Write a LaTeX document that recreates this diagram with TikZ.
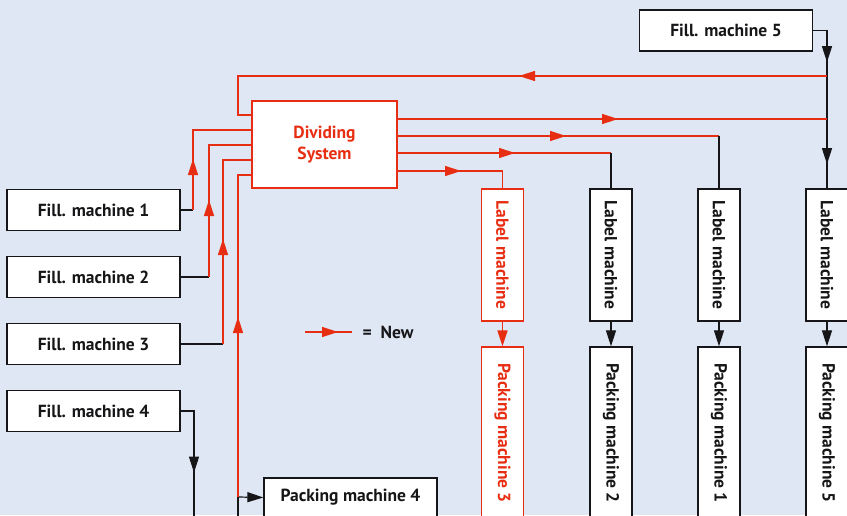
\documentclass[tikz,border=0pt]{standalone}
\usepackage{fontspec}
\usepackage{graphicx}
\setmainfont{PT Sans}
\usetikzlibrary{arrows.meta,decorations.markings}
\definecolor{bg}{RGB}{224,231,244}
\definecolor{newred}{RGB}{232,46,18}
\definecolor{ink}{RGB}{22,22,24}

\tikzset{
  flowtip/.tip={Triangle[length=16pt,width=10pt]},
  lbl/.style={font=\bfseries\fontsize{17.5}{21}\selectfont},
  box/.style={draw=ink, line width=1.3pt, fill=white, text=ink, lbl, inner sep=0pt,
              minimum width=173pt, minimum height=41pt},
  vbox/.style={draw=ink, line width=1.3pt, fill=white, text=ink, lbl, inner sep=0pt,
               minimum width=42pt},
  newbox/.style={draw=newred, text=newred},
  oldline/.style={draw=ink, line width=1.2pt},
  newline/.style={draw=newred, line width=1.5pt},
  arrowat/.style={postaction={decorate}, decoration={markings,
      mark=at position #1 with {\arrow{flowtip}}}},
  arrowsat/.style 2 args={postaction={decorate}, decoration={markings,
      mark=at position #1 with {\arrow{flowtip}},
      mark=at position #2 with {\arrow{flowtip}}}},
}

\begin{document}
\begin{tikzpicture}[x=1pt,y=-1pt]
\fill[bg] (0,0) rectangle (847,515);
\useasboundingbox (0,0) rectangle (847,515);
\clip (0,0) rectangle (847,515);

% filling machines
\node[box] (f1) at (93.5,210) {Fill. machine 1};
\node[box] (f2) at (93.5,277) {Fill. machine 2};
\node[box] (f3) at (93.5,344) {Fill. machine 3};
\node[box] (f4) at (93.5,411) {Fill. machine 4};
\node[box] (f5) at (726,30.5) {Fill. machine 5};

% dividing system
\node[box, newbox, minimum width=145pt, minimum height=87pt, align=center]
  (div) at (324.5,144.5) {Dividing\\System};

% label machines
\node[vbox, newbox, minimum height=132pt] (l3) at (502.5,255) {\rotatebox{-90}{Label machine}};
\node[vbox, minimum height=132pt] (l2) at (611,255) {\rotatebox{-90}{Label machine}};
\node[vbox, minimum height=132pt] (l1) at (719,255) {\rotatebox{-90}{Label machine}};
\node[vbox, minimum height=132pt] (l5) at (827,255) {\rotatebox{-90}{Label machine}};

% packing machines
\node[vbox, newbox, minimum height=172pt] (p3) at (502.5,433) {\rotatebox{-90}{Packing machine 3}};
\node[vbox, minimum height=172pt] (p2) at (611,433) {\rotatebox{-90}{Packing machine 2}};
\node[vbox, minimum height=172pt] (p1) at (719,433) {\rotatebox{-90}{Packing machine 1}};
\node[vbox, minimum height=172pt] (p5) at (827,433) {\rotatebox{-90}{Packing machine 5}};
\node[box, minimum width=173pt, minimum height=39pt] (p4) at (350.5,497.5) {Packing machine 4};

% connection points
\coordinate (dr) at (238,76);
\coordinate (di0) at (252,115);
\coordinate (di1) at (252,130);
\coordinate (di2) at (252,145);
\coordinate (di3) at (252,160);
\coordinate (di4) at (252,175);
\coordinate (do1) at (397,119);
\coordinate (do2) at (397,136);
\coordinate (do3) at (397,153);
\coordinate (do4) at (397,171);
\coordinate (b1) at (193,210);
\coordinate (b2) at (209,277);
\coordinate (b3) at (223,344);
\coordinate (v5) at (827,30.5);
\coordinate (t5) at (827,76);
\coordinate (m5) at (827,119);
\coordinate (b4) at (194,411);
\coordinate (e4) at (194,520);
\coordinate (j4) at (238,497);
\coordinate (e44) at (238,520);

% filling machine 5 down to label machine 5
\draw[oldline, arrowsat={45.5pt}{147.5pt}] (f5.east) -- (v5) -- (l5.north);

% return line back to the dividing system
\draw[newline, arrowat=308pt] (t5) -- (dr) |- (di0);

% filling machines 1-3 into the dividing system
\draw[oldline] (f1.east) -- (b1);
\draw[newline, arrowat=51pt] (b1) |- (di1);
\draw[oldline] (f2.east) -- (b2);
\draw[newline, arrowat=77pt] (b2) |- (di2);
\draw[oldline] (f3.east) -- (b3);
\draw[newline, arrowat=105pt] (b3) |- (di3);

% filling machine 4 and packing machine 4
\draw[oldline, arrowat=75pt] (f4.east) -- (b4) -- (e4);
\draw[oldline] (e44) -- (j4);
\draw[oldline, -{flowtip}] (j4) -- (p4.west);
\draw[newline, arrowat=180pt] (j4) |- (di4);

% dividing system outputs
\draw[newline, arrowat=221pt] (do1) -- (m5);
\draw[newline, arrowat=169pt] (do2) -- (l1.north |- do2);
\draw[oldline] (l1.north |- do2) -- (l1.north);
\draw[newline, arrowat=118pt] (do3) -- (l2.north |- do3);
\draw[oldline] (l2.north |- do3) -- (l2.north);
\draw[newline, arrowat=64pt] (do4) -| (l3.north);

% label machines to packing machines
\draw[newline, -{flowtip}] (l3.south) -- (p3.north);
\draw[oldline, -{flowtip}] (l2.south) -- (p2.north);
\draw[oldline, -{flowtip}] (l1.south) -- (p1.north);
\draw[oldline, -{flowtip}] (l5.south) -- (p5.north);

% legend
\coordinate (ka) at (305,332);
\coordinate (kb) at (352,332);
\draw[newline, arrowat=33pt] (ka) -- (kb);
\node[lbl, text=ink, anchor=west] (key) at (359,332) {=\ \ New};
\end{tikzpicture}
\end{document}
